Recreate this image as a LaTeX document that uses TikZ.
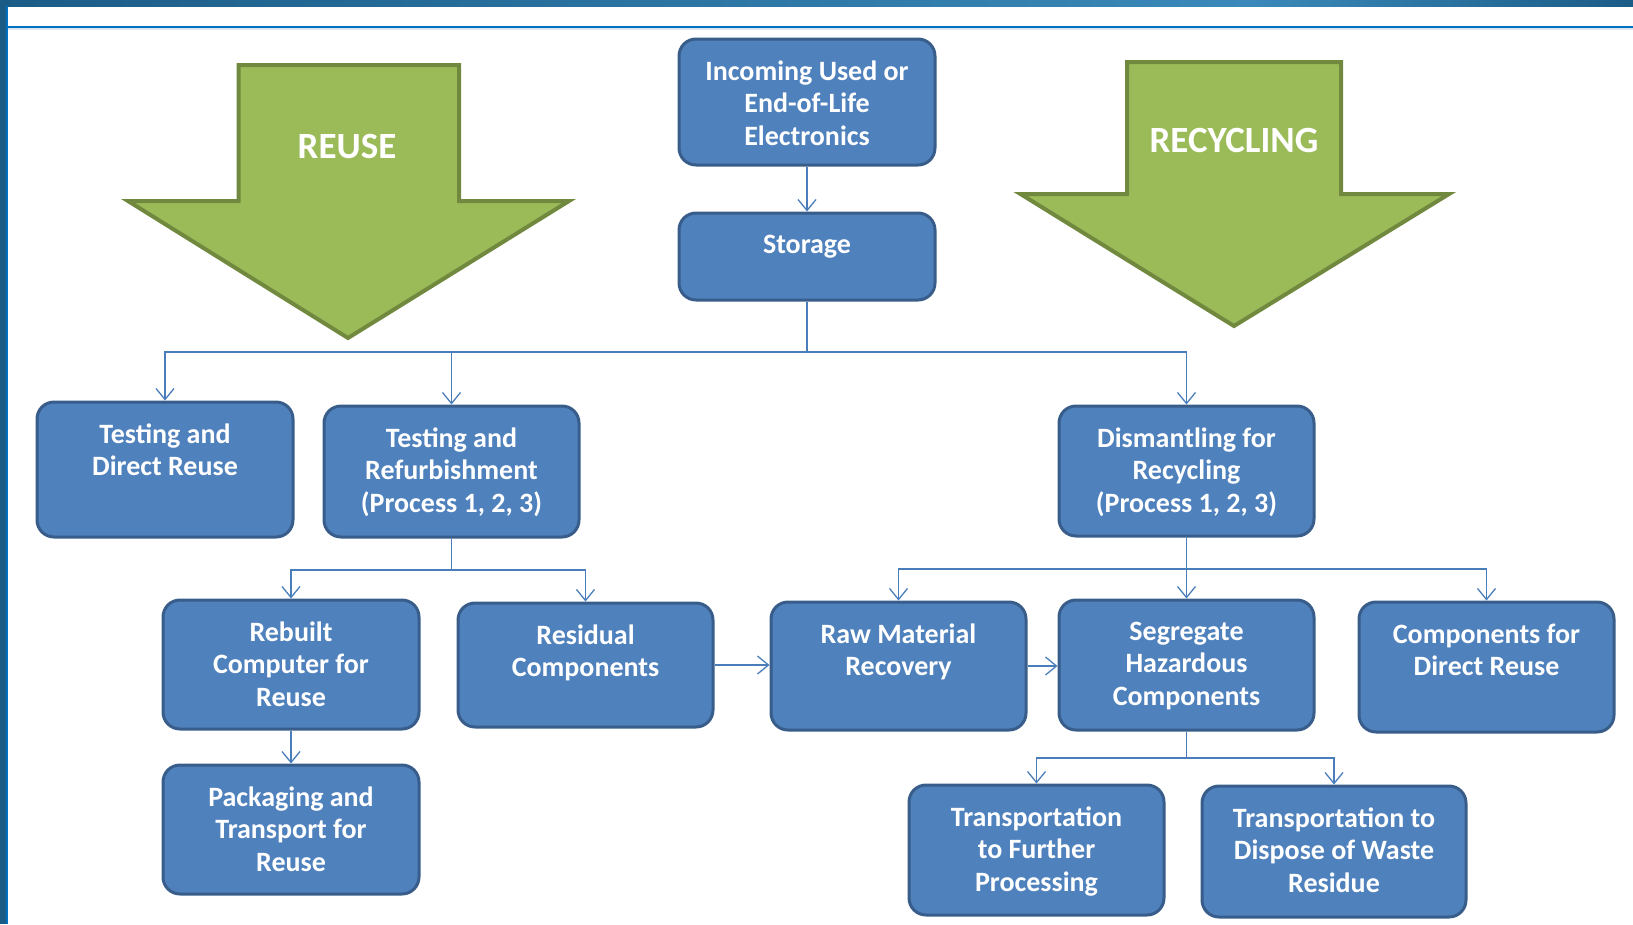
\documentclass[tikz,border=0pt]{standalone}
\usepackage{fontspec}
\setmainfont{Carlito}
\usetikzlibrary{arrows.meta}
\definecolor{boxfill}{HTML}{4F81BD}
\definecolor{boxline}{HTML}{385D8A}
\definecolor{linkcol}{HTML}{4A7EBB}
\definecolor{grfill}{HTML}{9BBB59}
\definecolor{grline}{HTML}{71893F}
\definecolor{framedark}{HTML}{1B5C87}
\definecolor{framelight}{HTML}{3A89BA}
\definecolor{rulecol}{HTML}{0070C0}
\definecolor{rulelight}{HTML}{DCE6F0}
\begin{document}
\begin{tikzpicture}[x=1pt,y=-1pt,
  box/.style={draw=boxline, line width=3pt, fill=boxfill, rounded corners=17pt, inner sep=0pt},
  lbl/.style={text=white, font=\fontsize{28}{32.5}\selectfont\bfseries, align=center, anchor=north, inner sep=0pt},
  big/.style={text=white, font=\fontsize{37}{40}\selectfont\bfseries, inner sep=0pt},
  link/.style={draw=linkcol, line width=1.3pt, -{Straight Barb[length=11pt,width=18pt,line width=1.3pt]}},
  grarrow/.style={fill=grfill, draw=grline, line width=4pt, line join=miter}]
\useasboundingbox (0,0) rectangle (1633,924);
% frame
\fill[left color=framedark, right color=framelight] (0,0) rectangle (1250,6);
\fill[left color=framelight, right color=framedark] (1250,0) rectangle (1633,6);
\fill[framedark] (0,0) rectangle (6.3,924);
\fill[rulecol] (6.3,6) rectangle (7.5,924);
\fill[rulecol] (7.5,26) rectangle (1633,28.3);
\fill[rulelight] (7.5,28.3) rectangle (1633,29.5);
% green arrows
\draw[grarrow] (238.5,65) -- (459,65) -- (459,201) -- (569,201) -- (348,338) -- (128,201) -- (238.5,201) -- cycle;
\node[big] (reuse) at (347,147) {REUSE};
\draw[grarrow] (1127,62) -- (1341,62) -- (1341,194) -- (1449,194) -- (1234,326) -- (1020.5,194) -- (1127,194) -- cycle;
\node[big] (recyc) at (1234,140) {RECYCLING};
% boxes
\node[box, minimum width=256pt, minimum height=126pt] (inc) at (807,102) {};
\node[lbl] (inc-t) at ([yshift=-23pt]inc.north) {Incoming Used or\\End-of-Life\\Electronics};
\node[box, minimum width=256pt, minimum height=87pt] (sto) at (807,256.5) {};
\node[lbl] (sto-t) at ([yshift=-23pt]sto.north) {Storage};
\node[box, minimum width=256pt, minimum height=135pt] (tdr) at (165,469.5) {};
\node[lbl] (tdr-t) at ([yshift=-23pt]tdr.north) {Testing and\\Direct Reuse};
\node[box, minimum width=255pt, minimum height=131pt] (tr) at (451.5,471.5) {};
\node[lbl] (tr-t) at ([yshift=-23pt]tr.north) {Testing and\\Refurbishment\\(Process 1, 2, 3)};
\node[box, minimum width=255pt, minimum height=130pt] (dis) at (1186.5,471) {};
\node[lbl] (dis-t) at ([yshift=-23pt]dis.north) {Dismantling for\\Recycling\\(Process 1, 2, 3)};
\node[box, minimum width=256pt, minimum height=129pt] (reb) at (291,664.5) {};
\node[lbl] (reb-t) at ([yshift=-23pt]reb.north) {Rebuilt\\Computer for\\Reuse};
\node[box, minimum width=255pt, minimum height=124pt] (res) at (585.5,665) {};
\node[lbl] (res-t) at ([yshift=-23pt]res.north) {Residual\\Components};
\node[box, minimum width=255pt, minimum height=128pt] (raw) at (898.5,666) {};
\node[lbl] (raw-t) at ([yshift=-23pt]raw.north) {Raw Material\\Recovery};
\node[box, minimum width=255pt, minimum height=130pt] (seg) at (1186.5,665) {};
\node[lbl] (seg-t) at ([yshift=-23pt]seg.north) {Segregate\\Hazardous\\Components};
\node[box, minimum width=255pt, minimum height=130pt] (cdr) at (1486.5,667) {};
\node[lbl] (cdr-t) at ([yshift=-23pt]cdr.north) {Components for\\Direct Reuse};
\node[box, minimum width=256pt, minimum height=129pt] (pkg) at (291,829.5) {};
\node[lbl] (pkg-t) at ([yshift=-23pt]pkg.north) {Packaging and\\Transport for\\Reuse};
\node[box, minimum width=255pt, minimum height=130pt] (tfp) at (1036.5,850) {};
\node[lbl] (tfp-t) at ([yshift=-23pt]tfp.north) {Transportation\\to Further\\Processing};
\node[box, minimum width=264pt, minimum height=131pt] (tdw) at (1334,851.5) {};
\node[lbl] (tdw-t) at ([yshift=-23pt]tdw.north) {Transportation to\\Dispose of Waste\\Residue};
% connectors
\draw[link] (inc.south) -- (sto.north);
\coordinate (b1) at (807,352);
\draw[draw=linkcol, line width=1.3pt] (sto.south) -- (b1);
\draw[link] (b1) -| (tdr.north);
\draw[link] (b1) -| (tr.north);
\draw[link] (b1) -| (dis.north);
\coordinate (b2) at (451.5,570);
\draw[draw=linkcol, line width=1.3pt] (tr.south) -- (b2);
\draw[link] (b2) -| (reb.north);
\draw[link] (b2) -| (res.north);
\draw[link] (reb.south) -- (pkg.north);
\draw[link] (res.east) -- (res.east -| raw.west);
\draw[link] (raw.east) -- (raw.east -| seg.west);
\coordinate (b3) at (1186.5,569);
\draw[draw=linkcol, line width=1.3pt] (dis.south) -- (b3);
\draw[link] (b3) -| (raw.north);
\draw[link] (b3) -- (seg.north);
\draw[link] (b3) -| (cdr.north);
\coordinate (b4) at (1186.5,758);
\draw[draw=linkcol, line width=1.3pt] (seg.south) -- (b4);
\draw[link] (b4) -| (tfp.north);
\draw[link] (b4) -| (tdw.north);
\end{tikzpicture}
\end{document}
